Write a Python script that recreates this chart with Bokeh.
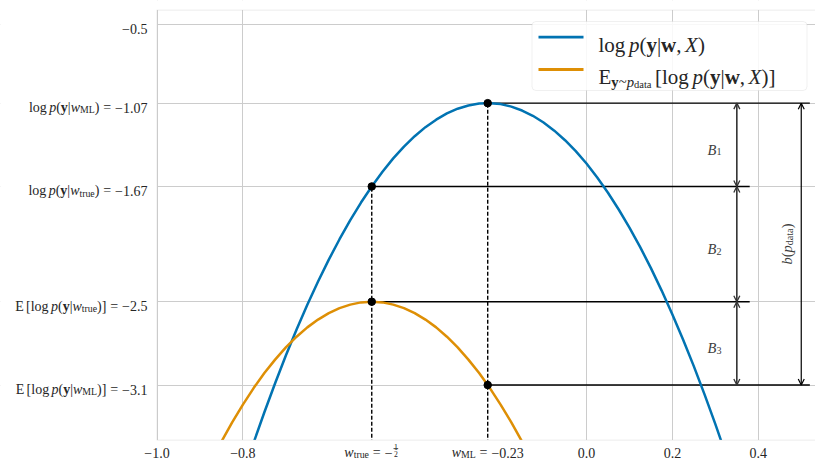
import numpy as np
from bokeh.plotting import figure
from bokeh.models import Range1d, FixedTicker, Label, Arrow, OpenHead, BoxAnnotation
from bokeh.embed import file_html
from bokeh.resources import INLINE

# ---------------- data ----------------
w_ll = [-0.800, -0.775, -0.750, -0.725, -0.700, -0.675, -0.650, -0.625, -0.600, -0.575,
        -0.550, -0.525, -0.500, -0.475, -0.450, -0.425, -0.400, -0.375, -0.350, -0.325,
        -0.300, -0.275, -0.250, -0.230, -0.225, -0.200, -0.175, -0.150, -0.125, -0.100,
        -0.075, -0.050, -0.025, 0.000, 0.025, 0.050, 0.075, 0.100, 0.125, 0.150, 0.175,
        0.200, 0.225, 0.250, 0.275, 0.300, 0.325, 0.350]
loglik = [-3.744, -3.515, -3.296, -3.087, -2.888, -2.700, -2.522, -2.354, -2.197, -2.050,
          -1.913, -1.786, -1.670, -1.564, -1.468, -1.383, -1.308, -1.243, -1.189, -1.144,
          -1.110, -1.087, -1.073, -1.070, -1.070, -1.077, -1.095, -1.123, -1.161, -1.209,
          -1.268, -1.337, -1.416, -1.505, -1.605, -1.715, -1.836, -1.966, -2.107, -2.258,
          -2.420, -2.592, -2.774, -2.966, -3.169, -3.382, -3.605, -3.839]
w_ell = [-0.900, -0.875, -0.850, -0.825, -0.800, -0.775, -0.750, -0.725, -0.700, -0.675,
         -0.650, -0.625, -0.600, -0.575, -0.550, -0.525, -0.500, -0.475, -0.450, -0.425,
         -0.400, -0.375, -0.350, -0.325, -0.300, -0.275, -0.250, -0.230, -0.225, -0.200,
         -0.175, -0.150, -0.125, -0.100]
exp_loglik = [-3.817, -3.657, -3.508, -3.369, -3.241, -3.122, -3.014, -2.917, -2.829, -2.752,
              -2.685, -2.629, -2.582, -2.546, -2.521, -2.505, -2.500, -2.505, -2.521, -2.546,
              -2.582, -2.629, -2.685, -2.752, -2.829, -2.917, -3.014, -3.100, -3.122, -3.241,
              -3.369, -3.508, -3.657, -3.817]

w_true = -0.5
w_ml = -0.23
ll_ml = -1.07
ll_true = -1.67
ell_true = -2.5
ell_ml = -3.1

x_ticks = [-1.0, -0.8, 0.0, 0.2, 0.4]
x_tick_labels = ["−1.0", "−0.8", "0.0", "0.2", "0.4"]
y_ticks = [-0.5, ll_ml, ll_true, ell_true, ell_ml]

# ---------------- layout ----------------
BLUE = "#0173B2"
ORANGE = "#DE8F05"
TXT = "#262626"
FONT = "Liberation Serif"

W, H = 815, 459
XS, YS = 429.5, 138.85                 # px per data unit
XA = -1.0 - 156.5 / XS                 # canvas left
XB = XA + W / XS                       # canvas right
YT = -0.5 + 23.5 / YS                  # canvas top
YB = YT - H / YS                       # canvas bottom
X0, X1 = -1.0, XB + 0.01               # plot area
Y0, Y1 = YT - 439.5 / YS, YT - 9.5 / YS


def dx(px):
    return XA + px / XS


def dy(py):
    return YT - py / YS


p = figure(width=W, height=H, output_backend="svg", toolbar_location=None,
           x_range=Range1d(XA, XB), y_range=Range1d(YB, YT),
           min_border_left=0, min_border_right=0, min_border_top=0, min_border_bottom=0)
p.title.visible = False
p.background_fill_color = "white"
p.border_fill_color = "white"
p.outline_line_color = None
p.xaxis.ticker = FixedTicker(ticks=x_ticks)
p.yaxis.ticker = FixedTicker(ticks=y_ticks)
p.xaxis.visible = False
p.yaxis.visible = False
p.grid.grid_line_color = "#cccccc"
p.grid.grid_line_width = 1

# ---------------- marks ----------------
y_bottom = Y0 - 0.2
p.segment(x0=[w_true, w_ml], y0=[y_bottom, y_bottom], x1=[w_true, w_ml], y1=[ll_true, ll_ml],
          line_color="black", line_width=1.4, line_dash="4 2")

x_long, x_short = 0.52, 0.38
p.segment(x0=[w_ml, w_true, w_true, w_ml], y0=[ll_ml, ll_true, ell_true, ell_ml],
          x1=[x_long, x_short, x_short, x_long], y1=[ll_ml, ll_true, ell_true, ell_ml],
          line_color="black", line_width=1.4)

p.line(w_ll, loglik, line_color=BLUE, line_width=2.5)
p.line(w_ell, exp_loglik, line_color=ORANGE, line_width=2.5)

p.scatter([w_ml, w_true, w_true, w_ml], [ll_ml, ll_true, ell_true, ell_ml],
          size=7.5, color="black")

# masks outside the plot area + plot outline
for l, r, b, t in [(XA, X0, YB, YT), (XA, XB, YB, Y0), (XA, XB, Y1, YT)]:
    p.add_layout(BoxAnnotation(left=l, right=r, bottom=b, top=t, fill_color="white",
                               fill_alpha=1.0, line_color=None))
p.add_layout(BoxAnnotation(left=X0, right=X1, bottom=Y0, top=Y1, fill_color=None,
                           line_color="#cccccc", line_width=1.25))

# double arrows
x_b, x_tot = 0.35, 0.50
ARR = "#333333"
for ya, yb in [(ll_ml, ll_true), (ll_true, ell_true), (ell_true, ell_ml)]:
    p.add_layout(Arrow(x_start=x_b, y_start=ya, x_end=x_b, y_end=yb,
                       start=OpenHead(size=6, line_width=1.3, line_color=ARR),
                       end=OpenHead(size=6, line_width=1.3, line_color=ARR),
                       line_width=1.6, line_color=ARR))
p.add_layout(Arrow(x_start=x_tot, y_start=ll_ml, x_end=x_tot, y_end=ell_ml,
                   start=OpenHead(size=6, line_width=1.2, line_color="black"),
                   end=OpenHead(size=6, line_width=1.2, line_color="black"),
                   line_width=1.2, line_color="black"))

# ---------------- rich text helper ----------------
WID = {
    "normal": {" ": 250, "(": 333, ")": 333, ",": 250, ".": 250, "=": 564, "[": 333,
               "]": 333, "|": 200, "~": 541, "−": 564, "/": 278, "B": 667, "E": 611,
               "L": 611, "M": 889, "X": 722, "a": 444, "b": 500, "d": 500, "e": 444,
               "g": 500, "l": 278, "o": 500, "p": 500, "r": 333, "t": 278, "u": 500,
               "w": 722, "y": 500, "i": 278},
    "italic": {"p": 500, "w": 667, "y": 444, "X": 611, "B": 611, "b": 500, "M": 833},
    "bold": {"y": 500, "w": 722, "X": 722},
}


def tw(t, st):
    tab = WID[st]
    return sum(tab.get(c, 500) for c in t) / 1000.0


def T(t, st="normal", sc=1.0, rise=0.0):
    return ("text", t, st, sc, rise)


def G(em):
    return ("gap", em)


def F(n, d, sc=0.55):
    return ("frac", n, d, sc)


def lab(x, y, xo, yo, t, size, st="normal", align="left", angle=0.0, color=TXT):
    p.add_layout(Label(x=x, y=y, x_offset=xo, y_offset=yo, text=t, angle=angle,
                       text_font=FONT, text_font_size=f"{size:.2f}px",
                       text_font_style=st, text_color=color,
                       text_align=align, text_baseline="alphabetic"))


def rich(runs, x, y, size, align="left", xo=0.0, yo=0.0, vertical=False, color=TXT):
    items = []
    for r in runs:
        if r[0] == "gap":
            items.append((r, r[1] * size))
        elif r[0] == "frac":
            items.append((r, max(tw(r[1], "normal"), tw(r[2], "normal")) * size * r[3] + 0.2 * size))
        else:
            items.append((r, tw(r[1], r[2]) * size * r[3]))
    total = sum(wd for _, wd in items)
    pos = {"left": 0.0, "center": -total / 2, "right": -total}[align]
    for r, wd in items:
        if r[0] == "text":
            _, t, st, sc, rise = r
            if vertical:
                lab(x, y, xo - rise * size, yo + pos, t, size * sc, st, angle=np.pi / 2, color=color)
            else:
                lab(x, y, xo + pos, yo + rise * size, t, size * sc, st, color=color)
        elif r[0] == "frac":
            _, n, d, sc = r
            cx = xo + pos + wd / 2
            lab(x, y, cx, yo + 0.40 * size, n, size * sc, align="center", color=color)
            lab(x, y, cx, yo - 0.14 * size, d, size * sc, align="center", color=color)
            yb = y + (yo + 0.28 * size) / YS
            p.add_layout(Arrow(x_start=x + (xo + pos + 0.07 * size) / XS, y_start=yb,
                               x_end=x + (xo + pos + wd - 0.07 * size) / XS, y_end=yb,
                               start=None, end=None, line_width=0.8, line_color=color))
        pos += wd
    return total


# B labels and b(p_data)
x_blab = 0.298
for i, (ya, yb) in enumerate([(ll_ml, ll_true), (ll_true, ell_true), (ell_true, ell_ml)]):
    rich([T("B", "italic"), T(str(i + 1), sc=0.7, rise=-0.15)], x_blab, (ya + yb) / 2, 14.5,
         align="center", yo=-5, color="#404040")

rich([T("b", "italic"), T("("), T("p", "italic"), T("data", sc=0.7, rise=-0.15), T(")")],
     0.456, (ll_ml + ell_ml) / 2, 14.5, align="center", xo=5, vertical=True, color="#404040")

# ---------------- tick labels ----------------
TS = 14


def ytl(sub, expect, val_txt):
    runs = [T("E"), G(0.17), T("[log")] if expect else [T("log")]
    runs += [G(0.17), T("p", "italic"), T("("), T("y", "bold"), T("|"), T("w", "italic"),
             T(sub, sc=0.7, rise=-0.15), T(")]" if expect else ")"), G(0.28), T("="), G(0.28),
             T(val_txt)]
    return runs


ylabels = [[T("−0.5")],
           ytl("ML", False, "−1.07"),
           ytl("true", False, "−1.67"),
           ytl("true", True, "−2.5"),
           ytl("ML", True, "−3.1")]
for yv, runs in zip(y_ticks, ylabels):
    rich(runs, X0, yv, TS, align="right", xo=-9.5, yo=-4.5)

for xv, txt in zip(x_ticks, x_tick_labels):
    rich([T(txt)], xv, Y0, TS, align="center", yo=-12.5)

rich([T("w", "italic"), T("true", sc=0.7, rise=-0.15), G(0.28), T("="), G(0.28), T("−"), F("1", "2")],
     w_true, Y0, TS, align="center", yo=-12.5)
rich([T("w", "italic"), T("ML", sc=0.7, rise=-0.15), G(0.28), T("="), G(0.28), T("−0.23")],
     w_ml, Y0, TS, align="center", yo=-12.5)

# ---------------- legend ----------------
p.add_layout(BoxAnnotation(left=dx(531.5), right=dx(806.5), top=dy(21), bottom=dy(90),
                           fill_color="white", fill_alpha=0.85, line_color="#cccccc",
                           line_width=1, border_radius=4))
for py, col in [(36.7, BLUE), (69.0, ORANGE)]:
    p.add_layout(BoxAnnotation(left=dx(538), right=dx(583), top=dy(py - 1.4), bottom=dy(py + 1.4),
                               fill_color=col, fill_alpha=1.0, line_color=None))

LS = 21
rich([T("log"), G(0.17), T("p", "italic"), T("("), T("y", "bold"), T("|"), T("w", "bold"),
      T(","), G(0.17), T("X", "italic"), T(")")], dx(598), dy(44.3), LS)
rich([T("E"), T("y", "bold", 0.7, -0.22), T("~", sc=0.7, rise=-0.22), T("p", "italic", 0.7, -0.22),
      T("data", sc=0.5, rise=-0.36), G(0.17), T("[log"), G(0.17), T("p", "italic"), T("("),
      T("y", "bold"), T("|"), T("w", "bold"), T(","), G(0.17), T("X", "italic"), T(")]")],
     dx(598), dy(76.7), LS)

open("out.html", "w").write(file_html(p, INLINE))
